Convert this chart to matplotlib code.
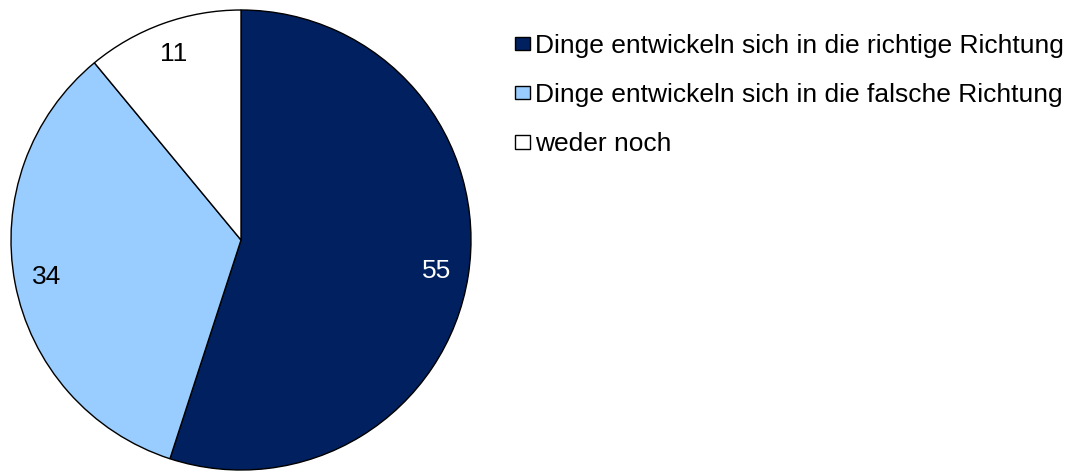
import matplotlib.pyplot as plt
import matplotlib as mpl
from matplotlib.patches import Patch

mpl.rcParams['font.family'] = ['Liberation Sans', 'DejaVu Sans']

categories = ["Dinge entwickeln sich in die richtige Richtung",
              "Dinge entwickeln sich in die falsche Richtung",
              "weder noch"]
values = [55, 34, 11]
colors = ['#002060', '#99CCFF', '#FFFFFF']
label_colors = ['white', 'black', 'black']

fig = plt.figure(figsize=(10.78, 4.73), dpi=100)
ax = fig.add_axes([11 / 1078, 3 / 473, 460 / 1078, 460 / 473])

wedges, texts = ax.pie(values, colors=colors, startangle=90, counterclock=False,
                       radius=1.0, labels=[str(v) for v in values],
                       labeldistance=0.86,
                       wedgeprops=dict(edgecolor='black', linewidth=1.0),
                       textprops=dict(fontsize=19))
for t, c in zip(texts, label_colors):
    t.set_color(c)
    t.set_ha('center')
    t.set_va('center')
ax.set_xlim(-1, 1)
ax.set_ylim(-1, 1)
ax.set_aspect('equal')

handles = [Patch(facecolor=c, edgecolor='black', linewidth=1.0) for c in colors]
fig.legend(handles, categories, loc='upper left', bbox_to_anchor=(515 / 1078, 1 - 34 / 473),
           frameon=False, fontsize=19, borderpad=0, borderaxespad=0,
           handlelength=0.55, handleheight=0.42, handletextpad=0.22, labelspacing=0.95)

fig.savefig('out.png', dpi=100)
